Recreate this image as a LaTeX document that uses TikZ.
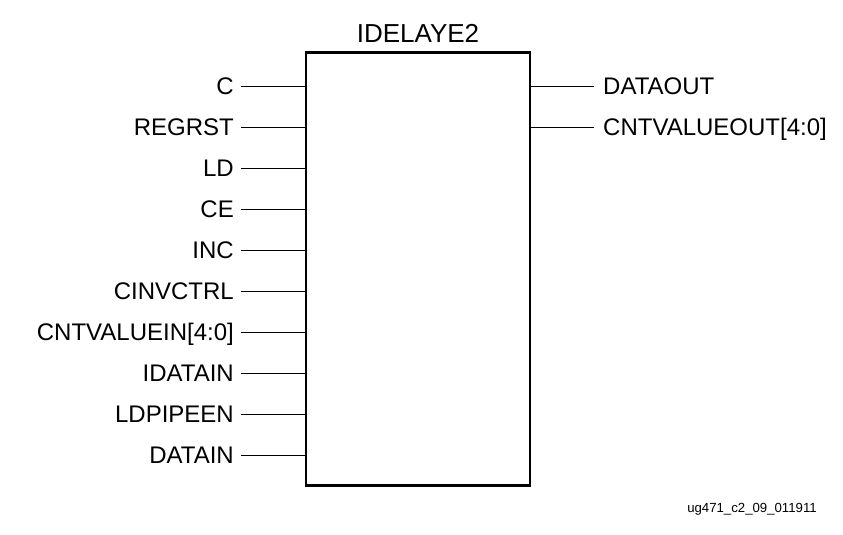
\documentclass[tikz,border=0pt]{standalone}
\usepackage{fontspec}
\setmainfont{Liberation Sans}
\usetikzlibrary{positioning}

\begin{document}
\begin{tikzpicture}[
    x=1pt,y=-1pt,
    cell/.style={
      draw,line width=2.2pt,minimum width=224pt,
      minimum height=433pt,inner sep=0pt
    },
    inpin/.style={anchor=east,inner xsep=7pt,inner ysep=0pt,
      text height=17.2pt,text depth=0pt,font=\fontsize{24}{24}\selectfont},
    outpin/.style={anchor=west,inner xsep=9pt,inner ysep=0pt,
      text height=17.2pt,text depth=0pt,font=\fontsize{24}{24}\selectfont},
    wire/.style={line width=1pt}
  ]
    \useasboundingbox (0,0) rectangle (843,535);
    \node[cell] (idelay) at (418,269) {};
    \node[anchor=base,font=\fontsize{26}{26}\selectfont] (title) at (418,43) {IDELAYE2};
    % inputs
    \node[inpin] (c) at (241,86) {C};
    \node[inpin] (regrst) at (241,127) {REGRST};
    \node[inpin] (ld) at (241,168) {LD};
    \node[inpin] (ce) at (241,209) {CE};
    \node[inpin] (inc) at (241,250) {INC};
    \node[inpin] (cinvctrl) at (241,291) {CINVCTRL};
    \node[inpin] (cntin) at (241,332) {CNTVALUEIN[4:0]};
    \node[inpin] (idatain) at (241,373) {IDATAIN};
    \node[inpin] (ldpipeen) at (241,414) {LDPIPEEN};
    \node[inpin] (datain) at (241,455) {DATAIN};
    % outputs
    \node[outpin] (dataout) at (594,86) {DATAOUT};
    \node[outpin] (cntout) at (594,127) {CNTVALUEOUT[4:0]};
    \draw[wire] (c.east) -- (c.east -| idelay.west);
    \draw[wire] (regrst.east) -- (regrst.east -| idelay.west);
    \draw[wire] (ld.east) -- (ld.east -| idelay.west);
    \draw[wire] (ce.east) -- (ce.east -| idelay.west);
    \draw[wire] (inc.east) -- (inc.east -| idelay.west);
    \draw[wire] (cinvctrl.east) -- (cinvctrl.east -| idelay.west);
    \draw[wire] (cntin.east) -- (cntin.east -| idelay.west);
    \draw[wire] (idatain.east) -- (idatain.east -| idelay.west);
    \draw[wire] (ldpipeen.east) -- (ldpipeen.east -| idelay.west);
    \draw[wire] (datain.east) -- (datain.east -| idelay.west);
    \draw[wire] (dataout.west -| idelay.east) -- (dataout.west);
    \draw[wire] (cntout.west -| idelay.east) -- (cntout.west);
    \node[anchor=base,font=\fontsize{13.2}{13.2}\selectfont] (tag) at (752,512.5) {ug471\_c2\_09\_011911};
  \end{tikzpicture}
\end{document}
